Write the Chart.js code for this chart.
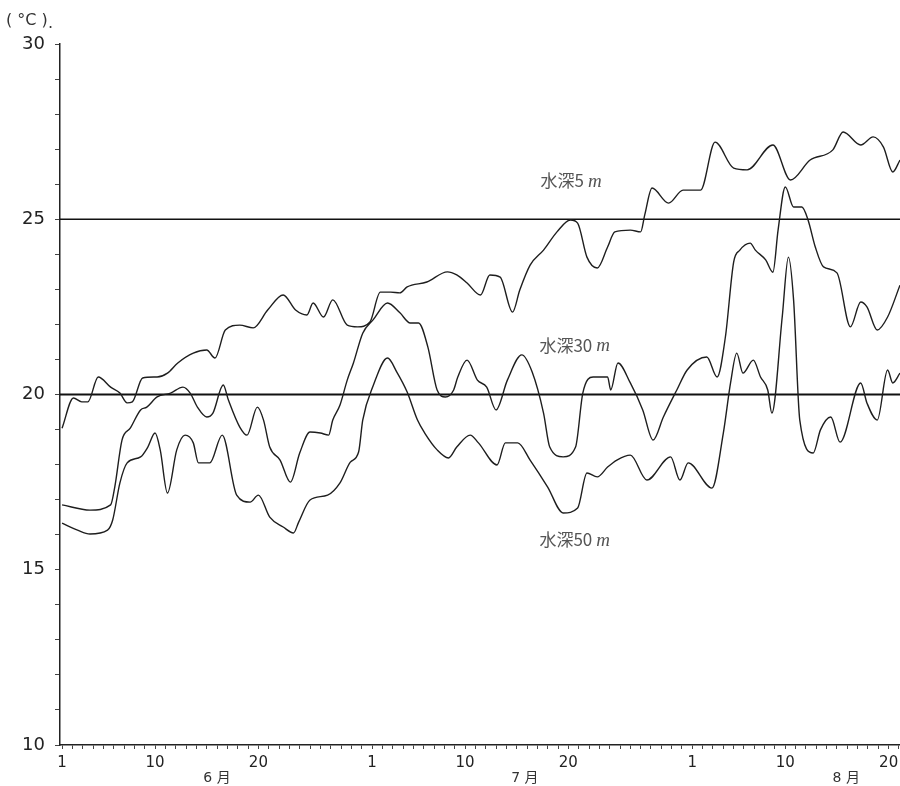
<!DOCTYPE html>
<html>
<head>
<meta charset="utf-8">
<script src="https://cdn.jsdelivr.net/npm/chart.js@4.4.0/dist/chart.umd.min.js"></script>
<style>
  html, body { margin: 0; padding: 0; background: #fff; }
  #wrap { width: 900px; height: 786px; }
</style>
</head>
<body>
<div id="wrap"><canvas id="chart" width="900" height="786"></canvas></div>
<script>
// 日数: 6月1日 = 0
const days5 = [0.0, 1.1, 1.9, 2.5, 3.5, 4.7, 5.6, 6.3, 6.8, 7.8, 9.2, 10.2, 11.2, 12.7, 14.0, 14.8, 15.8, 17.2, 18.5, 19.9,
  21.4, 22.6, 23.7, 24.3, 25.3, 26.2, 27.6, 28.6, 29.8, 30.8, 31.8, 32.7, 33.4, 35.3, 37.3, 38.2, 39.2, 40.5, 41.4, 42.4,
  43.6, 44.3, 45.3, 46.6, 47.9, 49.2, 49.9, 50.8, 51.8, 52.8, 53.5, 55.0, 56.0, 56.4, 57.1, 58.7, 60.1, 61.8, 63.2, 65.0,
  66.3, 68.8, 70.5, 72.4, 74.6, 75.6, 77.3, 78.5, 79.5, 80.4, 81.1];
const temp5 = [19.04, 19.90, 19.79, 19.79, 20.50, 20.21, 20.04, 19.76, 19.79, 20.47, 20.50, 20.61, 20.90, 21.18, 21.27, 21.04, 21.84, 21.98, 21.90, 22.41,
  22.84, 22.41, 22.27, 22.61, 22.21, 22.70, 21.98, 21.93, 22.07, 22.92, 22.92, 22.90, 23.07, 23.21, 23.50, 23.41, 23.18, 22.84, 23.41, 23.35,
  22.35, 22.98, 23.69, 24.12, 24.64, 24.98, 24.89, 23.92, 23.61, 24.21, 24.64, 24.69, 24.64, 25.13, 25.89, 25.46, 25.83, 25.83, 27.20, 26.46,
  26.41, 27.12, 26.12, 26.69, 26.98, 27.49, 27.12, 27.35, 27.06, 26.35, 26.69];

const days30 = [0.0, 2.7, 4.7, 5.1, 5.8, 6.6, 7.6, 8.2, 9.2, 10.5, 11.7, 12.4, 13.1, 14.0, 14.6, 15.6, 16.1, 17.2, 17.9, 18.9,
  19.5, 20.1, 21.1, 22.1, 23.0, 24.0, 25.0, 25.8, 26.2, 26.9, 27.6, 28.2, 29.1, 30.1, 31.5, 32.7, 33.7, 34.5, 35.4, 36.3,
  37.1, 37.9, 38.3, 39.2, 40.2, 41.1, 42.0, 43.1, 44.5, 45.5, 46.6, 47.2, 48.5, 49.7, 50.4, 51.4, 52.8, 53.1, 53.8, 55.0,
  56.2, 57.2, 58.2, 59.5, 60.5, 62.4, 63.4, 64.2, 65.0, 65.6, 66.6, 67.1, 68.1, 68.8, 69.3, 70.0, 70.8, 71.6, 72.2, 72.9,
  73.7, 75.0, 76.3, 77.3, 77.9, 78.9, 79.9, 81.1];
const temp30 = [16.85, 16.70, 16.85, 17.36, 18.70, 19.04, 19.56, 19.64, 19.93, 20.04, 20.21, 20.04, 19.64, 19.36, 19.47, 20.27, 19.84, 19.07, 18.84, 19.64,
  19.27, 18.50, 18.13, 17.50, 18.33, 18.93, 18.90, 18.84, 19.27, 19.70, 20.41, 20.90, 21.75, 22.13, 22.61, 22.33, 22.04, 22.04, 21.36, 20.13,
  19.93, 20.13, 20.50, 20.98, 20.41, 20.21, 19.56, 20.41, 21.13, 20.64, 19.47, 18.50, 18.22, 18.50, 20.04, 20.50, 20.50, 20.13, 20.90, 20.33,
  19.56, 18.70, 19.36, 20.13, 20.70, 21.07, 20.50, 21.64, 23.78, 24.12, 24.32, 24.12, 23.84, 23.49, 24.69, 25.92, 25.35, 25.35, 24.98, 24.21,
  23.64, 23.47, 21.93, 22.64, 22.50, 21.84, 22.21, 23.12];

const days50 = [0.0, 1.5, 2.7, 4.4, 4.9, 5.6, 6.3, 7.6, 8.3, 9.0, 9.5, 10.2, 11.1, 11.9, 12.7, 13.2, 14.3, 15.5, 16.9, 18.2,
  19.0, 20.1, 21.4, 22.4, 22.9, 24.0, 25.7, 26.9, 27.9, 28.7, 29.1, 30.1, 31.5, 32.4, 33.4, 34.4, 35.1, 36.3, 37.4, 38.2,
  39.5, 40.3, 42.1, 42.9, 44.1, 45.3, 47.0, 48.5, 49.9, 50.8, 51.8, 52.8, 53.7, 55.0, 56.6, 58.9, 59.8, 60.6, 62.9, 64.0,
  64.7, 65.3, 65.9, 66.9, 67.6, 68.3, 68.7, 69.7, 70.3, 70.8, 71.4, 72.7, 73.4, 74.4, 75.3, 77.3, 77.9, 78.9, 79.9, 80.4, 81.1];
const temp50 = [16.33, 16.13, 16.02, 16.13, 16.42, 17.48, 18.05, 18.22, 18.50, 18.90, 18.42, 17.19, 18.42, 18.84, 18.62, 18.05, 18.05, 18.84, 17.13, 16.93,
  17.13, 16.50, 16.22, 16.05, 16.36, 16.99, 17.13, 17.48, 18.07, 18.36, 19.27, 20.24, 21.04, 20.64, 20.07, 19.27, 18.90, 18.42, 18.19, 18.50,
  18.84, 18.62, 17.99, 18.62, 18.62, 18.13, 17.36, 16.62, 16.76, 17.76, 17.65, 17.93, 18.13, 18.27, 17.56, 18.22, 17.56, 18.05, 17.33, 18.90,
  20.33, 21.18, 20.61, 20.98, 20.50, 20.13, 19.47, 22.21, 23.92, 22.70, 19.27, 18.33, 18.99, 19.36, 18.64, 20.33, 19.76, 19.27, 20.70, 20.33, 20.61];

// 基準線
const refLevels = [25, 20];
const refWidths = [1.3, 1.9];

// 目盛
const xTickDays = [0, 9, 19, 30, 39, 49, 61, 70, 80];
const xTickLabels = ['1', '10', '20', '1', '10', '20', '1', '10', '20'];
const monthDays = [15.0, 44.8, 75.9];
const monthLabels = ['6 月', '7 月', '8 月'];

// 系列ラベル
const seriesNames = ['水深5', '水深30', '水深50'];
const labelDays = [46.3, 46.2, 46.2];
const labelTemps = [26.09, 21.41, 15.86];

const xMin = -0.2, xMax = 81.1;
const toPoints = (ds, ts) => ds.map((d, i) => ({ x: d, y: ts[i] }));

const lineStyle = { borderColor: '#1e1e1e', borderWidth: 1.4, pointRadius: 0, cubicInterpolationMode: 'monotone', fill: false };

const datasets = [
  Object.assign({ data: toPoints(days5, temp5) }, lineStyle),
  Object.assign({ data: toPoints(days30, temp30) }, lineStyle),
  Object.assign({ data: toPoints(days50, temp50) }, lineStyle)
];
refLevels.forEach((lv, i) => {
  datasets.push({ data: [{ x: xMin, y: lv }, { x: xMax, y: lv }], borderColor: '#111', borderWidth: refWidths[i], pointRadius: 0 });
});

// 文字の描画
const textPlugin = {
  id: 'texts',
  afterDraw(chart) {
    const { ctx, scales: { x, y } } = chart;
    ctx.save();
    ctx.fillStyle = '#333';
    ctx.textBaseline = 'middle';
    ctx.textAlign = 'left';
    ctx.font = '16px "DejaVu Sans"';
    ctx.fillText('( °C )', 6, 21);
    ctx.fillText('.', 48, 24);

    ctx.textAlign = 'center';
    ctx.font = '14px "DejaVu Sans", "Noto Sans CJK JP"';
    monthDays.forEach((d, i) => ctx.fillText(monthLabels[i], x.getPixelForValue(d), 778));

    ctx.textAlign = 'left';
    ctx.fillStyle = '#555';
    seriesNames.forEach((name, i) => {
      const px = x.getPixelForValue(labelDays[i]);
      const py = y.getPixelForValue(labelTemps[i]);
      ctx.font = '17px "Noto Sans CJK JP"';
      ctx.fillText(name, px, py);
      const w = ctx.measureText(name).width;
      ctx.font = 'italic 19px "Liberation Serif"';
      ctx.fillText('m', px + w + 4, py + 1);
    });
    ctx.restore();
  }
};

new Chart(document.getElementById('chart'), {
  type: 'line',
  data: { datasets },
  plugins: [textPlugin],
  options: {
    responsive: false,
    animation: false,
    layout: { padding: { top: 44, right: 0, left: 0, bottom: 0 } },
    plugins: { legend: { display: false }, tooltip: { enabled: false } },
    scales: {
      x: {
        type: 'linear',
        min: xMin,
        max: xMax,
        afterFit: s => { s.height = 41; s.paddingLeft = 0; s.paddingRight = 0; },
        afterBuildTicks: s => { s.ticks = Array.from({ length: 82 }, (_, i) => ({ value: i })); },
        border: { color: '#222', width: 1.5 },
        grid: { drawOnChartArea: false, tickLength: 4, color: '#444' },
        ticks: {
          autoSkip: false,
          maxRotation: 0,
          padding: 5,
          color: '#222',
          font: { family: 'DejaVu Sans', size: 15 },
          callback: v => {
            const i = xTickDays.indexOf(v);
            return i >= 0 ? xTickLabels[i] : '';
          }
        }
      },
      y: {
        min: 10,
        max: 30,
        afterFit: s => { s.width = 60; },
        border: { color: '#222', width: 1.5 },
        grid: { drawOnChartArea: false, tickLength: 5, color: '#444' },
        ticks: {
          stepSize: 1,
          autoSkip: false,
          padding: 10,
          color: '#222',
          font: { family: 'DejaVu Sans', size: 18 },
          callback: v => (v % 5 === 0 ? String(v) : '')
        }
      }
    }
  }
});
</script>
</body>
</html>
